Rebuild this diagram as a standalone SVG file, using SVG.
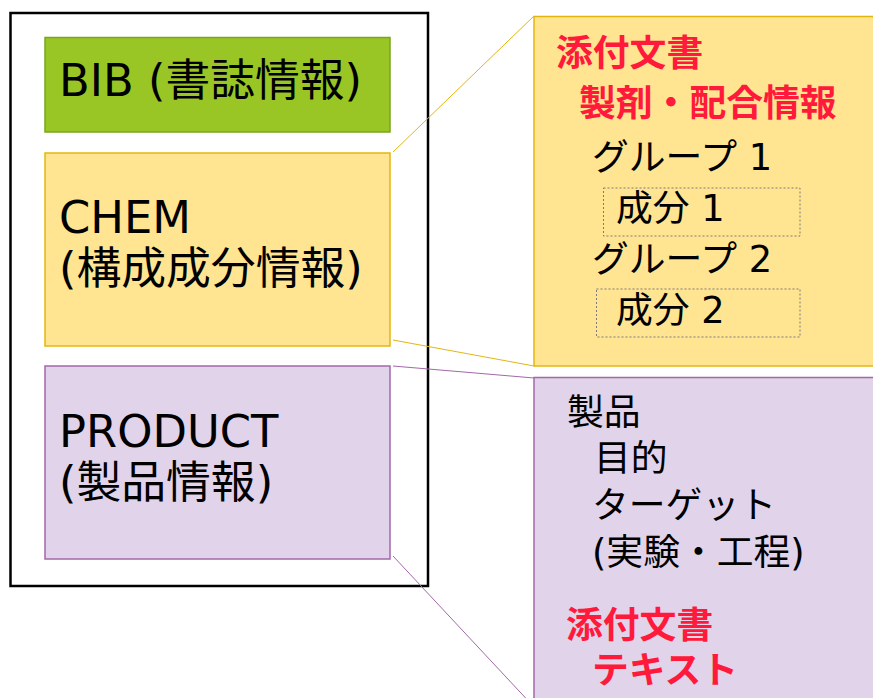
<svg xmlns="http://www.w3.org/2000/svg" width="873" height="698" viewBox="0 0 873 698">
<style>
text{font-family:"DejaVu Sans","Noto Sans CJK JP",sans-serif;fill:#000}
.big{font-size:44.8px}
.mid{font-size:36.8px}
.red{fill:#ff1a3c;font-weight:bold}
.yel{fill:#ffe491;stroke:#e3b60f;stroke-width:1.5}
.pur{fill:#e1d3ea;stroke:#a268a8;stroke-width:1.5}
.dash{fill:none;stroke:#7a7a7a;stroke-width:1;stroke-dasharray:2 2}
</style>
<rect width="873" height="698" fill="#fff"/>
<g id="container"><rect x="10.5" y="13" width="417.5" height="573" fill="none" stroke="#000" stroke-width="2.5"/></g>
<g id="connectors" fill="none" stroke-width="1">
<line x1="393" y1="152" x2="534" y2="16" stroke="#e3b60f"/>
<line x1="393" y1="340" x2="534" y2="366" stroke="#e3b60f"/>
<line x1="393" y1="366" x2="534" y2="378" stroke="#a268a8"/>
<line x1="393" y1="556" x2="534" y2="707" stroke="#a268a8"/>
</g>
<g id="bib"><rect x="45" y="37.5" width="345" height="94.5" fill="#99c624" stroke="#7aa61e" stroke-width="1.5"/>
<text class="big" x="59" y="96">BIB (書誌情報)</text></g>
<g id="chem"><rect x="45" y="153" width="345" height="193" class="yel"/>
<text class="big" x="59" y="233">CHEM</text>
<text class="big" x="59" y="284">(構成成分情報)</text></g>
<g id="product"><rect x="45" y="366" width="345" height="193" class="pur"/>
<text class="big" x="59" y="447">PRODUCT</text>
<text class="big" x="59" y="498">(製品情報)</text></g>
<g id="chem-detail"><rect x="534" y="16.5" width="345" height="349.5" class="yel"/>
<text class="mid red" x="556" y="66">添付文書</text>
<text class="mid red" x="579" y="116">製剤・配合情報</text>
<text class="mid" x="592" y="170">グループ 1</text>
<rect x="603.5" y="188" width="196.5" height="48" class="dash"/>
<text class="mid" x="616" y="221">成分 1</text>
<text class="mid" x="592" y="272">グループ 2</text>
<rect x="596.5" y="289" width="203.5" height="48" class="dash"/>
<text class="mid" x="616" y="323">成分 2</text></g>
<g id="product-detail"><rect x="534" y="377.5" width="345" height="330" class="pur"/>
<text class="mid" x="567" y="425">製品</text>
<text class="mid" x="594" y="471">目的</text>
<text class="mid" x="592" y="518">ターゲット</text>
<text class="mid" x="592" y="565">(実験・工程)</text>
<text class="mid red" x="566" y="638">添付文書</text>
<text class="mid red" x="592" y="683">テキスト</text></g>
</svg>
